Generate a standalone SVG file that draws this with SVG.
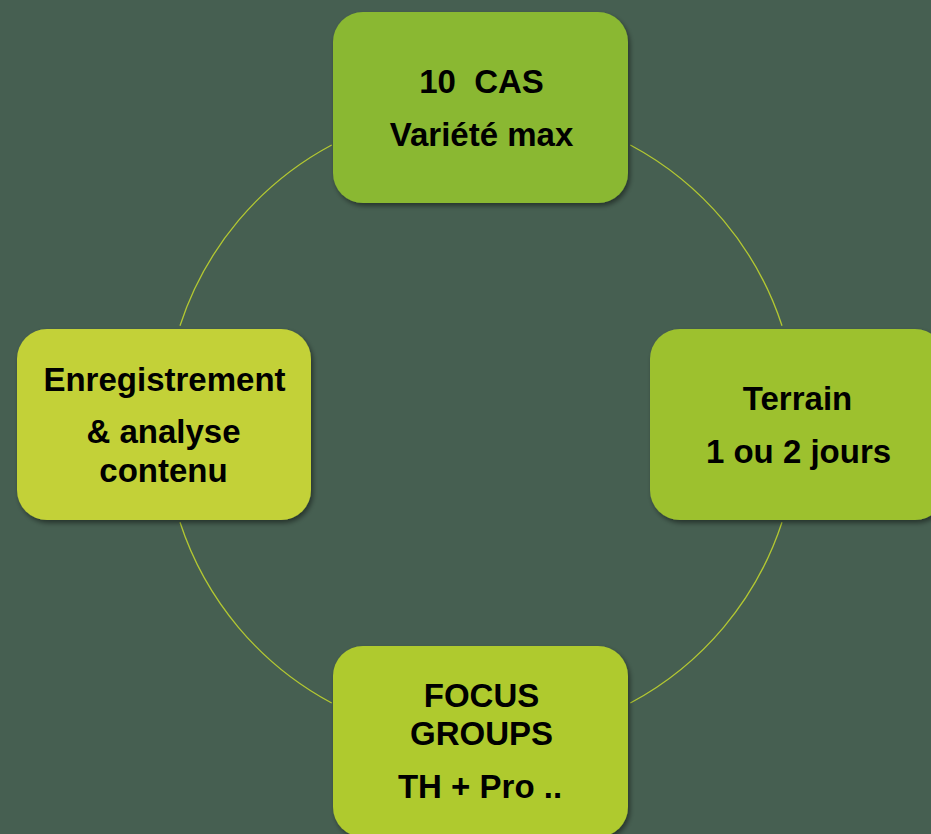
<svg xmlns="http://www.w3.org/2000/svg" width="931" height="834" viewBox="0 0 931 834">
<defs>
<filter id="sh" x="-10%" y="-10%" width="125%" height="125%">
<feDropShadow dx="2" dy="3" stdDeviation="2.5" flood-color="#000" flood-opacity="0.45"/>
</filter>
<style>
.bg{fill:#465F51}
.box{filter:url(#sh)}
.arc{fill:none;stroke:#B3C832;stroke-width:1.3}
.t{font-family:"Liberation Sans",Arial,sans-serif;font-weight:bold;font-size:33px;fill:#000;text-anchor:middle;white-space:pre}
</style>
</defs>
<rect class="bg" x="0" y="0" width="931" height="834"/>
<g id="connectors">
<path class="arc" d="M630.3,145 A316.5,316.5 0 0 1 782,325.7"/>
<path class="arc" d="M782,522.3 A316.5,316.5 0 0 1 630.3,703"/>
<path class="arc" d="M331.7,703 A316.5,316.5 0 0 1 180,522.3"/>
<path class="arc" d="M180,325.7 A316.5,316.5 0 0 1 331.7,145"/>
</g>
<g id="node-top">
<rect class="box" x="333" y="12" width="295" height="191" rx="30" fill="#8AB833"/>
<text class="t" x="481.5" y="92.7" xml:space="preserve">10  CAS</text>
<text class="t" x="481.5" y="145.7">Variété max</text>
</g>
<g id="node-right">
<rect class="box" x="650" y="329" width="295" height="191" rx="30" fill="#9DC12F"/>
<text class="t" x="797.5" y="410">Terrain</text>
<text class="t" x="798.5" y="463.3">1 ou 2 jours</text>
</g>
<g id="node-bottom">
<rect class="box" x="333" y="646" width="295" height="191" rx="30" fill="#AFCA2E"/>
<text class="t" x="481.5" y="707.3">FOCUS</text>
<text class="t" x="481.5" y="745">GROUPS</text>
<text class="t" x="480" y="798.3">TH + Pro ..</text>
</g>
<g id="node-left">
<rect class="box" x="17" y="329" width="294" height="191" rx="30" fill="#C3D137"/>
<text class="t" x="164.5" y="390.7">Enregistrement</text>
<text class="t" x="163.5" y="443.3">&amp; analyse</text>
<text class="t" x="163.5" y="481.7">contenu</text>
</g>
</svg>
